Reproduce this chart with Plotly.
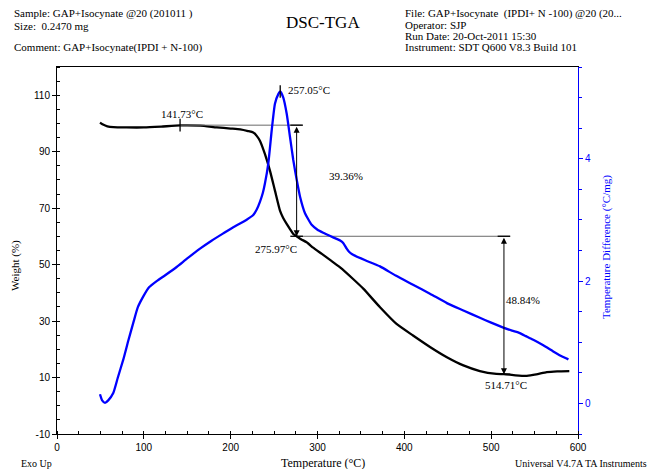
import plotly.graph_objects as go

# ---------------- data ----------------
tga_temp = [49.5, 53, 58, 65, 80, 100, 120, 141.73, 165, 184, 200, 211, 220, 226, 230, 233.8,
            239.5, 245.3, 251, 256.8, 260.5, 264.5, 268.5, 272.1, 275.97, 281, 287.5, 295, 305,
            316, 326, 341, 353, 372, 391, 410, 430, 449, 468, 487, 506, 514.71, 528, 541, 552,
            564, 576, 590]
tga_weight = [100.3, 99.6, 99.0, 98.7, 98.6, 98.6, 98.9, 99.3, 99.2, 98.6, 98.2, 97.9, 97.3, 96.8,
              95.6, 93.8, 89.1, 83.2, 76.2, 69.1, 66.5, 64.4, 62.5, 60.85, 60.04, 59.0, 57.9, 56.0,
              53.8, 51.3, 49.0, 44.9, 41.4, 34.9, 29.0, 24.9, 20.75, 17.2, 14.3, 12.3, 11.3, 11.2,
              10.8, 10.6, 11.1, 11.9, 12.2, 12.3]

dsc_temp = [49.5, 52, 55.3, 59, 64.8, 70, 76.4, 82, 87.9, 93, 99.4, 106, 114.8, 125, 137.8, 150,
            164.7, 178, 191.5, 203, 210.8, 218, 226, 230, 233.8, 237, 239.5, 243.4, 247.3, 251,
            255, 257.05, 260.6, 264.5, 268.3, 272.1, 276, 279.9, 285.6, 293.3, 300, 306.7, 314,
            322, 326.5, 329.8, 333.6, 336.3, 341, 355, 372, 390, 410, 430, 449, 468, 487, 500,
            514, 524, 533, 540, 548.5, 560, 571.5, 580, 589]
dsc_value = [0.15, 0.05, 0.01, 0.05, 0.17, 0.42, 0.72, 1.02, 1.32, 1.57, 1.75, 1.90, 2.0, 2.1,
             2.23, 2.37, 2.53, 2.66, 2.78, 2.88, 2.94, 3.0, 3.08, 3.17, 3.3, 3.44, 3.6, 3.93,
             4.47, 4.9, 5.06, 5.1, 5.0, 4.74, 4.36, 3.98, 3.66, 3.38, 3.11, 2.92, 2.84, 2.79,
             2.74, 2.69, 2.66, 2.62, 2.53, 2.48, 2.43, 2.34, 2.24, 2.09, 1.94, 1.79, 1.64, 1.52,
             1.40, 1.32, 1.24, 1.19, 1.15, 1.10, 1.04, 0.95, 0.85, 0.78, 0.72]

# analysis results
onset_temp = 141.73
onset_weight = 99.4
peak_temp = 257.05
peak_value = 5.1
step1_temp = 275.97
step1_loss = 39.36
step2_temp = 514.71
step2_loss = 48.84
step1_weight = onset_weight - step1_loss
step2_weight = step1_weight - step2_loss

weight_ticks = [-10, 10, 30, 50, 70, 90, 110]
weight_ticklabels = ["-10", "10", "30", "50", "70", "90", "110"]

header_left = ["Sample: GAP+Isocynate @20 (201011 )", "Size:  0.2470 mg",
               "Comment: GAP+Isocynate(IPDI + N-100)"]
header_right = ["File: GAP+Isocynate  (IPDI+ N -100) @20 (20...", "Operator: SJP",
                "Run Date: 20-Oct-2011 15:30", "Instrument: SDT Q600 V8.3 Build 101"]

SERIF = "Liberation Serif"
SANS = "Liberation Sans"
BLUE = "#0000ff"
GRAY = "#6a6a6a"

W, H = 652, 469
ML, MR, MT, MB = 57, 74, 67, 35
PW, PH = W - ML - MR, H - MT - MB

fig = go.Figure()

fig.add_trace(go.Scatter(x=tga_temp, y=tga_weight, mode="lines",
                         line=dict(color="black", width=2.3, shape="spline", smoothing=0.5),
                         showlegend=False, hoverinfo="skip"))
fig.add_trace(go.Scatter(x=dsc_temp, y=dsc_value, mode="lines", yaxis="y2",
                         line=dict(color=BLUE, width=2.3, shape="spline", smoothing=0.5),
                         showlegend=False, hoverinfo="skip"))

# horizontal guide lines
fig.add_trace(go.Scatter(x=[onset_temp, step1_temp + 6], y=[onset_weight, onset_weight],
                         mode="lines", line=dict(color=GRAY, width=1), showlegend=False,
                         hoverinfo="skip"))
fig.add_trace(go.Scatter(x=[step1_temp, step2_temp + 7], y=[step1_weight, step1_weight],
                         mode="lines", line=dict(color=GRAY, width=1), showlegend=False,
                         hoverinfo="skip"))
# tick marks at onset and peak
fig.add_trace(go.Scatter(x=[onset_temp], y=[onset_weight], mode="markers",
                         marker=dict(symbol="line-ns", size=9, line=dict(color="black", width=1.3)),
                         showlegend=False, hoverinfo="skip"))
fig.add_trace(go.Scatter(x=[peak_temp], y=[peak_value], mode="markers", yaxis="y2",
                         marker=dict(symbol="line-ns", size=9, line=dict(color="black", width=1.3)),
                         showlegend=False, hoverinfo="skip"))
# end bars of arrows
fig.add_trace(go.Scatter(x=[step1_temp, step1_temp, step2_temp, step2_temp],
                         y=[onset_weight, step1_weight, step1_weight, step2_weight],
                         mode="markers",
                         marker=dict(symbol="line-ew", size=9, line=dict(color="black", width=1.3)),
                         showlegend=False, hoverinfo="skip"))

annotations = []
# double-headed arrows
for t, top, bot in [(step1_temp, onset_weight, step1_weight), (step2_temp, step1_weight, step2_weight)]:
    annotations.append(dict(x=t, y=bot, ax=t, ay=top, xref="x", yref="y", axref="x", ayref="y",
                            showarrow=True, arrowside="end+start", arrowhead=2, arrowsize=1.2,
                            arrowwidth=1, arrowcolor="black", text=""))

def lab(text, x, y, xanchor="center", size=11, color="black"):
    annotations.append(dict(x=x, y=y, xref="x", yref="y", text=text, showarrow=False,
                            xanchor=xanchor, yanchor="middle",
                            font=dict(family=SERIF, size=size, color=color)))

lab(f"{onset_temp:.2f}°C", onset_temp + 2, 103.3)
lab(f"{peak_temp:.2f}°C", peak_temp + 7, 111.8, xanchor="left")
lab(f"{step1_loss:.2f}%", 333, 81.5)
lab(f"{step1_temp:.2f}°C", 252, 55.6)
lab(f"{step2_loss:.2f}%", 537, 37.3)
lab(f"{step2_temp:.2f}°C", 517, 7.45)

def ptxt(text, x, y, xanchor="left", size=11, color="black", angle=0):
    annotations.append(dict(x=(x - ML) / PW, y=(H - MB - y) / PH, xref="paper", yref="paper",
                            text=text, showarrow=False, xanchor=xanchor, yanchor="middle",
                            textangle=angle, font=dict(family=SERIF, size=size, color=color)))

for txt, yy in zip(header_left, [14, 26, 47]):
    ptxt(txt, 12, yy)
for txt, yy in zip(header_right, [14, 25, 36, 47]):
    ptxt(txt, 403, yy)
ptxt("DSC-TGA", 323, 22, xanchor="center", size=17)
ptxt("Exo Up", 19, 463, size=10)
ptxt("Temperature (°C)", 323, 463, xanchor="center", size=12)
ptxt("Universal V4.7A TA Instruments", 649, 463, xanchor="right", size=10)
ptxt("Weight (%)", 15, 266, xanchor="center", size=11, angle=-90)
ptxt("Temperature Difference (°C/mg)", 606, 247, xanchor="center", size=11, color=BLUE, angle=-90)

fig.update_layout(
    width=W, height=H,
    margin=dict(l=ML, r=MR, t=MT, b=MB),
    paper_bgcolor="white", plot_bgcolor="white",
    showlegend=False,
    annotations=annotations,
    xaxis=dict(range=[0, 600], tick0=0, dtick=100, showgrid=False, zeroline=False,
               showline=True, linecolor="black", linewidth=1, mirror=True,
               ticks="outside", ticklen=4, tickcolor="black",
               minor=dict(dtick=25, ticks="inside", ticklen=3, tickcolor="black"),
               tickfont=dict(family=SANS, size=10, color="black")),
    yaxis=dict(range=[-10, 120], tickmode="array", tickvals=weight_ticks,
               ticktext=weight_ticklabels, showgrid=False, zeroline=False,
               showline=True, linecolor="black", linewidth=1,
               ticks="outside", ticklen=4, tickcolor="black",
               minor=dict(tick0=0, dtick=5, ticks="inside", ticklen=3, tickcolor="black"),
               tickfont=dict(family=SANS, size=10, color="black")),
    yaxis2=dict(range=[-0.5, 5.5], tick0=0, dtick=2, overlaying="y", side="right",
                showgrid=False, zeroline=False, showline=True, linecolor=BLUE, linewidth=1,
                ticks="outside", ticklen=4, tickcolor=BLUE,
                minor=dict(dtick=0.5, ticks="outside", ticklen=3, tickcolor=BLUE),
                tickfont=dict(family=SANS, size=10, color=BLUE)),
)

fig.write_html("out.html")
